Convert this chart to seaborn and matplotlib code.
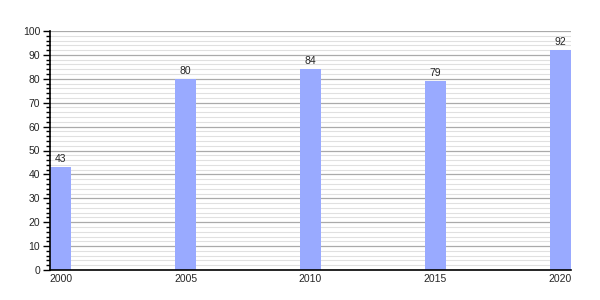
import matplotlib
matplotlib.use("Agg")
import matplotlib.pyplot as plt
import seaborn as sns
import pandas as pd
from matplotlib.ticker import MultipleLocator

years = ["2000", "2005", "2010", "2015", "2020"]
values = [43, 80, 84, 79, 92]

sns.set_style("white")
plt.rcParams['font.family'] = ['Liberation Sans', 'DejaVu Sans']

df = pd.DataFrame({"year": years, "value": values})

fig = plt.figure(figsize=(6, 3), dpi=100)
ax = fig.add_axes([50/600, 30/300, 521/600, 239/300])

sns.barplot(data=df, x="year", y="value", color="#99aaff", saturation=1,
            width=0.168, ax=ax, zorder=3, linewidth=0, edgecolor="none")

ax.set_xlim(-0.084, 4.084)
ax.set_ylim(0, 100)
ax.yaxis.set_major_locator(MultipleLocator(10))
ax.yaxis.set_minor_locator(MultipleLocator(2))
ax.grid(which="major", axis="y", color="#aaaaaa", linewidth=0.9, zorder=0)
ax.grid(which="minor", axis="y", color="#e0e0e0", linewidth=0.8, zorder=0)
ax.set_axisbelow(True)

for s in ["top", "right"]:
    ax.spines[s].set_visible(False)
for s in ["left", "bottom"]:
    ax.spines[s].set_color("black")
    ax.spines[s].set_linewidth(1.2)
    ax.spines[s].set_zorder(5)

ax.tick_params(axis="y", which="major", length=5, width=1, color="black",
               labelsize=7.5, pad=2, left=True)
ax.tick_params(axis="y", which="minor", length=3, width=1, color="black", left=True)
ax.tick_params(axis="x", length=0, labelsize=7.5, pad=3)
ax.set_xlabel("")
ax.set_ylabel("")

for cont in ax.containers:
    ax.bar_label(cont, labels=[str(v) for v in values], fontsize=7.5, padding=2)

fig.savefig("out.png", dpi=100)
